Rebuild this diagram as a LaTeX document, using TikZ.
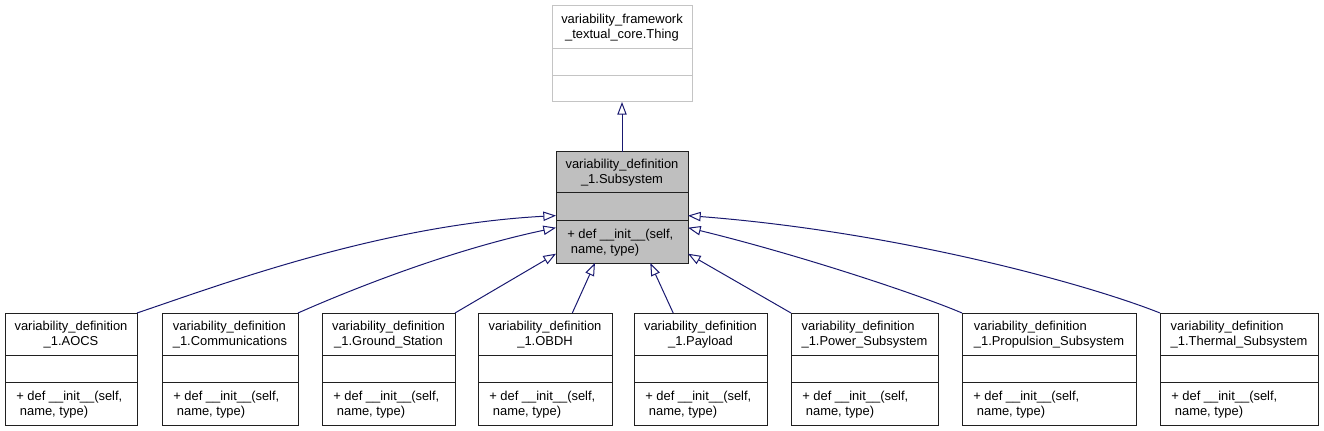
\documentclass[tikz,border=0pt]{standalone}
\usepackage{fontspec}
\setmainfont{Liberation Sans}
\definecolor{umlNavy}{HTML}{191970}
\definecolor{umlGris}{HTML}{BFBFBF}
\definecolor{umlBorde}{HTML}{C4C4C4}
\definecolor{umlNegro}{HTML}{202020}
\usepackage{tikz}
\usetikzlibrary{
	arrows.meta,
	positioning
}
\tikzset{
	clase/.style={
		draw=umlNegro,
		fill=white,
		line width=0.75pt,
		inner sep=0pt,
		outer sep=0pt
	},
	claseBase/.style={
		clase,
		draw=umlBorde
	},
	claseActual/.style={
		clase,
		fill=umlGris
	},
	titulo/.style={
		align=center,
		inner sep=0pt,
		font=\fontsize{9.7}{11.25}\selectfont
	},
	metodo/.style={
		anchor=west,
		align=left,
		inner sep=0pt,
		font=\fontsize{9.7}{11.25}\selectfont
	},
	division/.style={
		line width=0.75pt,
		umlNegro
	},
	herencia/.style={
		-{Triangle[open,length=9.5pt,width=7pt]},
		line width=0.75pt,
		umlNavy
	}
}

\begin{document}
\begin{tikzpicture}[x=0.75pt,y=-0.75pt]
		\useasboundingbox (0,0) rectangle (1324,431);
		% clase base
		\node[claseBase, minimum width=105pt, minimum height=72pt] (thing) at (622,54) {};
		\draw[division, umlBorde] (552,49) -- (692,49) (552,76) -- (692,76);
		\node[titulo] at (622,27.5) {variability\_framework\\\_textual\_core.Thing};
		% clase actual
		\node[claseActual, minimum width=99pt, minimum height=83.25pt] (subsystem) at (622,207.5) {};
		\draw[division] (556,193) -- (688,193) (556,220) -- (688,220);
		\node[titulo] at (622,172.5) {variability\_definition\\\_1.Subsystem};
		\node[metodo] at (567,243) {+ def \_\_init\_\_(self,\\\hspace*{.28em}name, type)};
		\draw[herencia] (subsystem) -- (thing);
		% subclases
		\foreach \nombre/\izq/\der/\alinear/\titulo in {
			aocs/5/137/center/{variability\_definition\\\_1.AOCS},
			comms/162/298/left/{variability\_definition\\\_1.Communications},
			ground/322/455/center/{variability\_definition\\\_1.Ground\_Station},
			obdh/478/612/center/{variability\_definition\\\_1.OBDH},
			payload/634/767/center/{variability\_definition\\\_1.Payload},
			power/791/938/left/{variability\_definition\\\_1.Power\_Subsystem},
			propulsion/962/1136/left/{variability\_definition\\\_1.Propulsion\_Subsystem},
			thermal/1160/1318/left/{variability\_definition\\\_1.Thermal\_Subsystem}}{
			\pgfmathsetmacro{\ancho}{(\der-\izq)*0.75}
			\pgfmathsetmacro{\cx}{(\izq+\der)/2}
			\node[clase, minimum width=\ancho pt, minimum height=84pt] (\nombre) at (\cx,369) {};
			\draw[division] (\izq,355) -- (\der,355) (\izq,382) -- (\der,382);
			\node[titulo, align=\alinear] at (\cx,334.5) {\titulo};
			\node[metodo] at (\izq+11,404.5) {+ def \_\_init\_\_(self,\\\hspace*{.28em}name, type)};
		}
		% herencias
		\draw[herencia] (aocs.north east) .. controls (220,285) and (380,225) .. (subsystem.187);
		\draw[herencia] (comms.north east) .. controls (350,290) and (450,250) .. (subsystem.197);
		\draw[herencia] (ground.north east) -- (subsystem.215);
		\draw[herencia] (obdh.64) -- (subsystem.244);
		\draw[herencia] (payload.116) -- (subsystem.297);
		\draw[herencia] (power.north west) -- (subsystem.325);
		\draw[herencia] (propulsion.north west) .. controls (920,295) and (800,255) .. (subsystem.343);
		\draw[herencia] (thermal.north west) .. controls (1090,285) and (900,232) .. (subsystem.353);
	\end{tikzpicture}
\end{document}
